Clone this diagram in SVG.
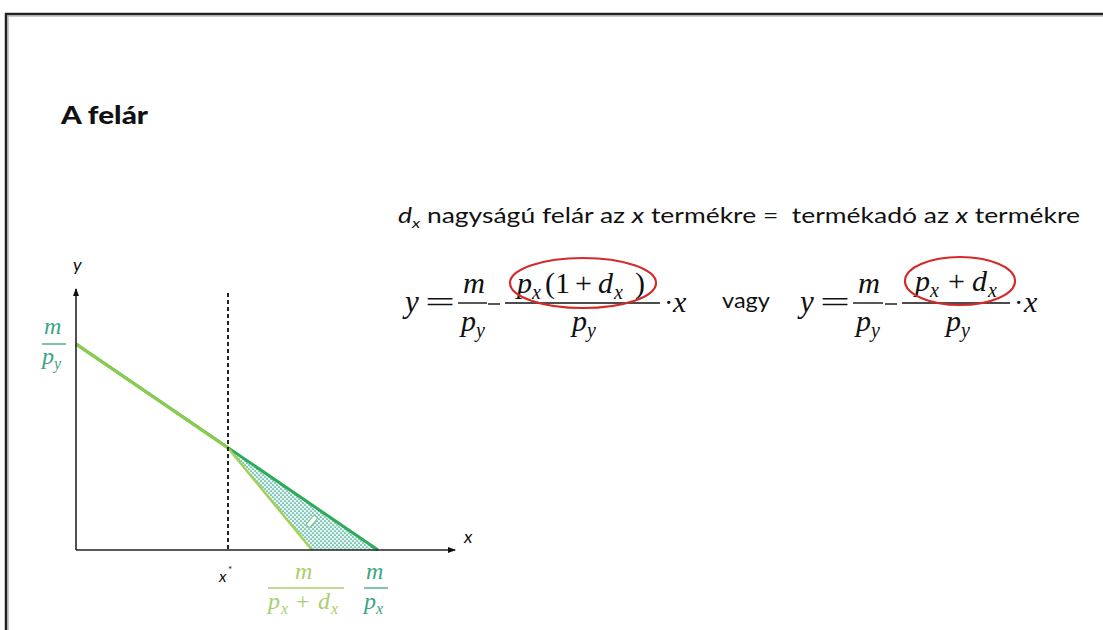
<svg xmlns="http://www.w3.org/2000/svg" width="1103" height="630" viewBox="0 0 1103 630">
<defs>
<style>
.sans{font-family:Lato,"Open Sans","Liberation Sans",sans-serif;fill:#111}
.math{font-family:"Liberation Serif","DejaVu Serif",serif;font-style:italic;fill:#111}
.up{font-style:normal}
.axis{stroke:#222;stroke-width:1.6;fill:none}
.bar{stroke:#111;stroke-width:1.4}
.teal{fill:#3aa585}
.lg{fill:#a9cf6a}
</style>
<marker id="ah" markerWidth="8" markerHeight="8" refX="7" refY="4" orient="auto" markerUnits="userSpaceOnUse">
<path d="M0,1 L8,4 L0,7 Z" fill="#111"/>
</marker>
<pattern id="dots" width="4" height="4" patternUnits="userSpaceOnUse">
<rect width="4" height="4" fill="#e3f6f2"/>
<circle cx="1" cy="1" r="0.85" fill="#3c9e8a"/>
<circle cx="3" cy="3" r="0.85" fill="#3c9e8a"/>
</pattern>
</defs>
<rect width="1103" height="630" fill="#fff"/>
<path d="M6,630 L6,14 L1103,14" fill="none" stroke="#222" stroke-width="2.5"/>
<path d="M8,630 L8,16 L1103,16" fill="none" stroke="#999" stroke-width="1"/>

<g id="title"><text class="sans" x="61" y="124" font-size="25" font-weight="900" textLength="87" lengthAdjust="spacingAndGlyphs">A felár</text></g>

<g id="statement">
<text class="sans" x="398" y="223" font-size="21" textLength="682" lengthAdjust="spacingAndGlyphs"><tspan font-style="italic">d</tspan><tspan font-style="italic" font-size="14" dy="5">x</tspan><tspan dy="-5"> nagyságú felár az </tspan><tspan font-style="italic">x</tspan> termékre = &#160;termékadó az <tspan font-style="italic">x</tspan> termékre</text>
</g>

<g id="eq1">
<text class="math" x="405" y="312" font-size="31">y</text>
<text class="math up" x="425" y="312" font-size="30" textLength="30" lengthAdjust="spacingAndGlyphs">=</text>
<text class="math" x="463" y="293" font-size="30" textLength="22" lengthAdjust="spacingAndGlyphs">m</text>
<line class="bar" x1="458" y1="303" x2="487" y2="303"/>
<text class="math" x="461" y="331" font-size="30">p<tspan font-size="20" dy="6">y</tspan></text>
<line class="bar" x1="488" y1="304" x2="500" y2="304"/>
<text class="math" y="293" font-size="30"><tspan x="517">p</tspan><tspan x="532" font-size="20" dy="6">x</tspan><tspan class="up" x="545" dy="-6">(1</tspan><tspan class="up" x="575">+</tspan><tspan x="598">d</tspan><tspan x="614" font-size="20" dy="6">x</tspan><tspan class="up" x="635" dy="-6">)</tspan></text>
<line class="bar" x1="505" y1="303" x2="660" y2="303"/>
<text class="math" x="572" y="331" font-size="30">p<tspan font-size="20" dy="6">y</tspan></text>
<text class="math up" x="664" y="312" font-size="28">·</text>
<text class="math" x="673" y="312" font-size="30">x</text>
<ellipse cx="583" cy="283" rx="73" ry="25" fill="none" stroke="#d42a2a" stroke-width="2.2"/>
</g>

<g id="vagy"><text class="sans" x="722" y="308" font-size="21" textLength="48" lengthAdjust="spacingAndGlyphs">vagy</text></g>

<g id="eq2">
<text class="math" x="800" y="312" font-size="31">y</text>
<text class="math up" x="820" y="312" font-size="30" textLength="30" lengthAdjust="spacingAndGlyphs">=</text>
<text class="math" x="858" y="293" font-size="30" textLength="22" lengthAdjust="spacingAndGlyphs">m</text>
<line class="bar" x1="853" y1="303" x2="883" y2="303"/>
<text class="math" x="856" y="331" font-size="30">p<tspan font-size="20" dy="6">y</tspan></text>
<line class="bar" x1="885" y1="304" x2="897" y2="304"/>
<text class="math" y="291" font-size="30"><tspan x="915">p</tspan><tspan x="930" font-size="20" dy="6">x</tspan><tspan class="up" x="948" dy="-6">+</tspan><tspan x="972">d</tspan><tspan x="988" font-size="20" dy="6">x</tspan></text>
<line class="bar" x1="902" y1="303" x2="1010" y2="303"/>
<text class="math" x="946" y="331" font-size="30">p<tspan font-size="20" dy="6">y</tspan></text>
<text class="math up" x="1014" y="312" font-size="28">·</text>
<text class="math" x="1024" y="312" font-size="30">x</text>
<ellipse cx="960" cy="281" rx="55" ry="24" fill="none" stroke="#d42a2a" stroke-width="2.2"/>
</g>

<g id="graph">
<path d="M228,448 L378,550 L312,550 Z" fill="url(#dots)"/>
<line x1="76" y1="344" x2="378" y2="550" stroke="#2eaa5a" stroke-width="3"/>
<line x1="76" y1="344" x2="228" y2="448" stroke="#8ccc4a" stroke-width="3"/>
<line x1="228" y1="448" x2="312" y2="550" stroke="#a5d15a" stroke-width="2.5"/>
<line x1="228" y1="293" x2="228" y2="550" stroke="#222" stroke-width="2" stroke-dasharray="4,3"/>
<line class="axis" x1="76" y1="550" x2="76" y2="289" marker-end="url(#ah)"/>
<line class="axis" x1="76" y1="550" x2="455" y2="550" marker-end="url(#ah)"/>
<rect x="306" y="519" width="13" height="5" rx="2" fill="#fff" stroke="#6bbf8a" stroke-width="1" transform="rotate(-50 312 522)"/>
</g>

<g id="labels">
<text class="sans" x="73" y="271" font-size="18" font-style="italic">y</text>
<text class="sans" x="464" y="543" font-size="18" font-style="italic">x</text>
<text class="sans" x="219" y="582" font-size="16" font-style="italic">x</text>
<text class="sans" x="228" y="573" font-size="10">*</text>
<text class="math teal" x="44" y="334" font-size="24">m</text>
<line x1="42" y1="344" x2="66" y2="344" stroke="#3aa585" stroke-width="1.3"/>
<text class="math teal" x="42" y="364" font-size="24">p<tspan font-size="16" dy="5">y</tspan></text>
<text class="math lg" x="295" y="579" font-size="24">m</text>
<line x1="268" y1="588" x2="344" y2="588" stroke="#a9cf6a" stroke-width="1.3"/>
<text class="math lg" y="609" font-size="24"><tspan x="268">p</tspan><tspan x="281" font-size="16" dy="5">x</tspan><tspan class="up" x="296" dy="-5">+</tspan><tspan x="318">d</tspan><tspan x="331" font-size="16" dy="5">x</tspan></text>
<text class="math teal" x="366" y="579" font-size="24">m</text>
<line x1="364" y1="588" x2="388" y2="588" stroke="#3aa585" stroke-width="1.3"/>
<text class="math teal" x="364" y="609" font-size="24">p<tspan font-size="16" dy="5">x</tspan></text>
</g>
</svg>
